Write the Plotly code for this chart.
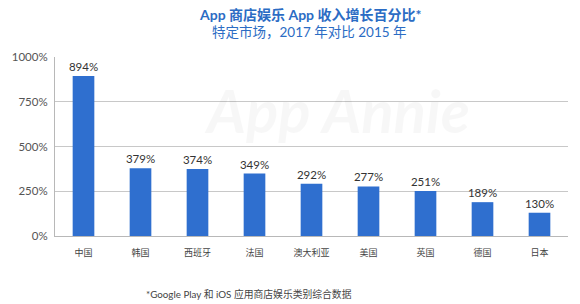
import plotly.graph_objects as go

categories = ["中国", "韩国", "西班牙", "法国", "澳大利亚", "美国", "英国", "德国", "日本"]
values = [894, 379, 374, 349, 292, 277, 251, 189, 130]
tick_vals = [0, 250, 500, 750, 1000]
tick_text = ["0%", "250%", "500%", "750%", "1000%"]

FONT = "Lato, 'Noto Sans CJK SC', sans-serif"
BLUE = "#2F6FCF"
TITLE_BLUE = "#2B6CC4"

W, H = 580, 304
ML, MR, MT, MB = 50, 12, 57, 68
plot_w = W - ML - MR
plot_h = H - MT - MB


def px_to_paper(xp, yp):
    return (xp - ML) / plot_w, (H - MB - yp) / plot_h


fig = go.Figure()
fig.add_trace(go.Bar(
    x=categories, y=values,
    marker=dict(color=BLUE, line=dict(width=0)),
    text=[f"{v}%" for v in values],
    textposition="outside",
    constraintext="none",
    textfont=dict(family=FONT, size=11.5, color="#333333"),
    cliponaxis=False,
))

anns = []
x0, y0 = px_to_paper(307, 15)
anns.append(dict(text="<b>App 商店娱乐 App 收入增长百分比*</b>", x=x0, y=y0,
                 xref="paper", yref="paper", xanchor="center", yanchor="middle",
                 showarrow=False, font=dict(family=FONT, size=14, color=TITLE_BLUE)))
x1, y1 = px_to_paper(307, 32)
anns.append(dict(text="特定市场，2017 年对比 2015 年", x=x1, y=y1,
                 xref="paper", yref="paper", xanchor="center", yanchor="middle",
                 showarrow=False, font=dict(family=FONT, size=13.5, color=TITLE_BLUE)))
x2, y2 = px_to_paper(140, 294)
anns.append(dict(text="*Google Play 和 iOS 应用商店娱乐类别综合数据", x=x2, y=y2,
                 xref="paper", yref="paper", xanchor="left", yanchor="middle",
                 showarrow=False, font=dict(family=FONT, size=9.8, color="#444444")))
x3, y3 = px_to_paper(335, 110)
anns.append(dict(text="<i><b>App Annie</b></i>", x=x3, y=y3,
                 xref="paper", yref="paper", xanchor="center", yanchor="middle",
                 showarrow=False, font=dict(family=FONT, size=60, color="rgba(0,0,0,0.03)")))

fig.update_layout(
    width=W, height=H,
    margin=dict(l=ML, r=MR, t=MT, b=MB),
    paper_bgcolor="white", plot_bgcolor="white",
    bargap=0.62,
    showlegend=False,
    font=dict(family=FONT, color="#555555"),
    xaxis=dict(
        showgrid=False, showline=True, linecolor="#b8b8b8", linewidth=1,
        ticks="", tickfont=dict(size=9, color="#444444", family="'Noto Sans CJK SC', sans-serif"),
        ticklabelstandoff=8,
    ),
    yaxis=dict(
        range=[0, 1000], tickvals=tick_vals, ticktext=tick_text,
        showgrid=True, gridcolor="#c8c8c8", gridwidth=1,
        showline=True, linecolor="#b8b8b8", linewidth=1,
        zeroline=False, ticks="", tickfont=dict(size=11.5, color="#555555"),
        ticklabelstandoff=4,
    ),
    annotations=anns,
)

fig.write_html("out.html")
